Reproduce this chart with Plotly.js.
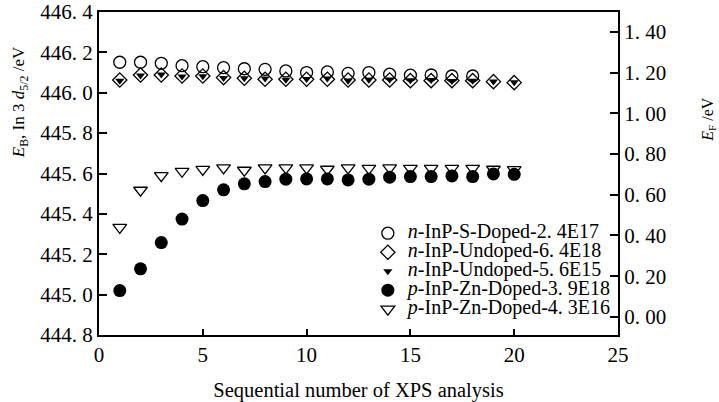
<!DOCTYPE html>
<html>
<head>
<meta charset="utf-8">
<script src="https://cdn.plot.ly/plotly-3.0.1.min.js"></script>
<style>html,body{margin:0;padding:0;background:#fff;}#chart{width:719px;height:402px;}</style>
</head>
<body>
<div id="chart"></div>
<script>
// ---- data ----
var seqCircle = [1,2,3,4,5,6,7,8,9,10,11,12,13,14,15,16,17,18];
var seqAll = [1,2,3,4,5,6,7,8,9,10,11,12,13,14,15,16,17,18,19,20];

var sDoped24E17 = [446.151,446.151,446.146,446.134,446.129,446.124,446.119,446.116,446.108,446.100,446.103,446.096,446.100,446.092,446.087,446.088,446.083,446.083];
var undoped64E18 = [446.063,446.088,446.088,446.083,446.083,446.075,446.072,446.067,446.067,446.067,446.067,446.063,446.063,446.063,446.060,446.060,446.060,446.060,446.055,446.050];
var undoped56E15 = [446.060,446.085,446.090,446.080,446.082,446.073,446.072,446.070,446.065,446.068,446.070,446.060,446.065,446.066,446.062,446.063,446.058,446.060,446.056,446.052];
var znDoped39E18 = [445.020,445.128,445.258,445.374,445.466,445.519,445.549,445.560,445.572,445.573,445.573,445.568,445.572,445.582,445.585,445.585,445.588,445.585,445.598,445.596];
var znDoped43E16 = [445.333,445.517,445.589,445.611,445.620,445.628,445.616,445.628,445.628,445.628,445.621,445.628,445.625,445.628,445.625,445.625,445.625,445.625,445.621,445.619];

var seriesNames = [
  '<i>n</i>-InP-S-Doped-2. 4E17',
  '<i>n</i>-InP-Undoped-6. 4E18',
  '<i>n</i>-InP-Undoped-5. 6E15',
  '<i>p</i>-InP-Zn-Doped-3. 9E18',
  '<i>p</i>-InP-Zn-Doped-4. 3E16'
];

var xTickVals = [0,5,10,15,20,25];
var xTickText = ['0','5','10','15','20','25'];
var ebTickVals = [444.8,445.0,445.2,445.4,445.6,445.8,446.0,446.2,446.4];
var ebTickText = ['444. 8','445. 0','445. 2','445. 4','445. 6','445. 8','446. 0','446. 2','446. 4'];
var efTickVals = [0,0.2,0.4,0.6,0.8,1.0,1.2,1.4];
var efTickText = ['0. 00','0. 20','0. 40','0. 60','0. 80','1. 00','1. 20','1. 40'];

// ---- build ----
var FONT = 'Liberation Serif';
var TICKFONT = {family:FONT, size:21, color:'black'};
function nm(s){ return '<span style="font-size:20px">' + s + '</span>'; }

var lineBlack = {color:'black', width:1.3};
var traces = [
  {x:seqCircle, y:sDoped24E17, name:nm(seriesNames[0]), mode:'markers', type:'scatter',
   marker:{symbol:'circle-open', size:12, color:'black', line:lineBlack}},
  {x:seqAll, y:undoped64E18, name:nm(seriesNames[1]), mode:'markers', type:'scatter',
   marker:{symbol:'diamond-open', size:11, color:'black', line:lineBlack}},
  {x:seqAll, y:undoped56E15, name:nm(seriesNames[2]), mode:'markers', type:'scatter',
   marker:{symbol:'triangle-down', size:8, color:'black', line:{width:0}}},
  {x:seqAll, y:znDoped39E18, name:nm(seriesNames[3]), mode:'markers', type:'scatter',
   marker:{symbol:'circle', size:13, color:'black', line:{width:0}}},
  {x:seqAll, y:znDoped43E16, name:nm(seriesNames[4]), mode:'markers', type:'scatter',
   marker:{symbol:'triangle-down-open', size:12, color:'black', line:lineBlack}},
  // empty trace only to activate the right-hand E_F axis
  {x:[], y:[], yaxis:'y2', type:'scatter', mode:'markers', showlegend:false, hoverinfo:'skip'}
];

var layout = {
  width:719, height:402,
  margin:{l:99, r:101, t:12, b:67},
  font:{family:FONT, color:'black', size:20},
  showlegend:true,
  legend:{x:0.518, y:0.36, xanchor:'left', yanchor:'top', bgcolor:'rgba(0,0,0,0)',
          font:{family:FONT, size:11.5, color:'black'}, itemwidth:30},
  xaxis:{range:[0,25], tickmode:'array', tickvals:xTickVals, ticktext:xTickText,
         ticks:'inside', ticklen:6, tickwidth:1.5, tickcolor:'black',
         showline:true, linewidth:2, linecolor:'black', mirror:true,
         showgrid:false, zeroline:false, tickfont:TICKFONT,
         title:{text:'Sequential number of XPS analysis', font:{family:FONT, size:20.5, color:'black'}, standoff:16}},
  yaxis:{range:[444.8,446.4], tickmode:'array', tickvals:ebTickVals, ticktext:ebTickText,
         ticks:'inside', ticklen:8, tickwidth:1.5, tickcolor:'black',
         showline:true, linewidth:2, linecolor:'black',
         showgrid:false, zeroline:false, tickfont:TICKFONT},
  yaxis2:{overlaying:'y', side:'right', range:[-0.089,1.498], tickmode:'array',
          tickvals:efTickVals, ticktext:efTickText,
          ticks:'inside', ticklen:8, tickwidth:1.5, tickcolor:'black',
          showline:true, linewidth:2, linecolor:'black',
          showgrid:false, zeroline:false, tickfont:TICKFONT},
  annotations:[
    {xref:'paper', yref:'paper', x:-0.152, y:0.721, xanchor:'center', yanchor:'middle',
     textangle:-90, showarrow:false, font:{family:FONT, size:17, color:'black'},
     text:'<i>E</i><sub>B</sub>, In 3 <i>d</i><sub>5/2</sub> /eV'},
    {xref:'paper', yref:'paper', x:1.175, y:0.669, xanchor:'center', yanchor:'middle',
     textangle:-90, showarrow:false, font:{family:FONT, size:16, color:'black'},
     text:'<i>E</i><sub>F</sub> /eV'}
  ]
};

Plotly.newPlot('chart', traces, layout, {displayModeBar:false});
</script>
</body>
</html>
